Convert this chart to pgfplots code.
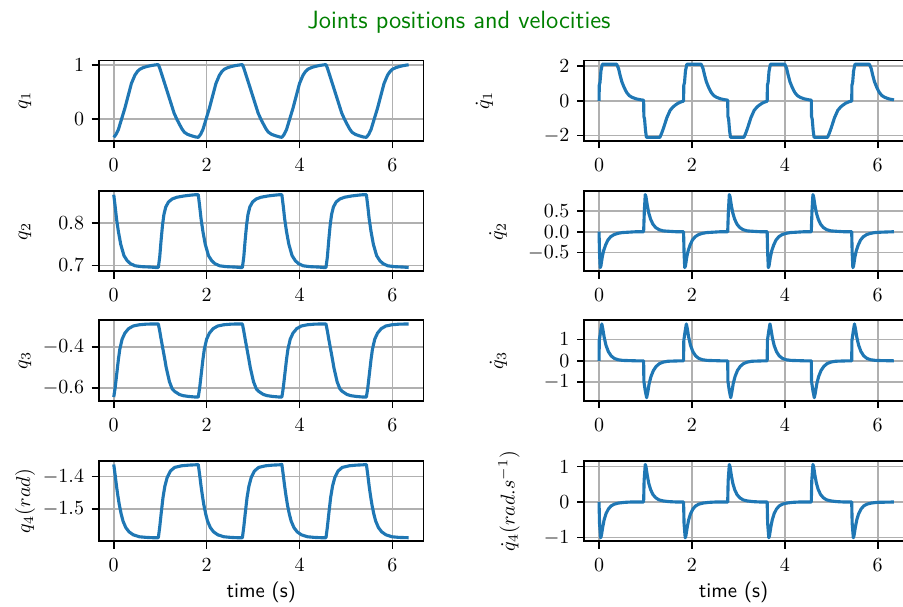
\documentclass[border=0pt]{standalone}
\usepackage{pgfplots}
\pgfplotsset{compat=1.18}
\definecolor{tabblue}{HTML}{1F77B4}
\definecolor{gridgray}{HTML}{B0B0B0}
\definecolor{titlegreen}{HTML}{008000}
\pgfplotsset{
  base/.style={
    scale only axis, width=162.2pt, height=40.2pt,
    anchor=south west,
    xmin=-0.3175, xmax=6.6675,
    xtick={0,2,4,6},
    grid=major,
    major grid style={line width=0.83pt, color=gridgray},
    tick align=outside, tick pos=left,
    major tick length=3.65pt,
    every tick/.style={black, line width=0.83pt},
    axis line style={line width=0.83pt},
    tick label style={font=\fontsize{10.4}{12.5}\selectfont, inner sep=0pt},
    xticklabel style={anchor=north, yshift=-5.0pt},
    yticklabel style={anchor=east, xshift=-3.65pt},
    label style={font=\fontsize{10.4}{12.5}\selectfont},
  },
  lcol/.style={base, ylabel style={at={(axis description cs:-0.228,0.5)}, anchor=center}},
  myline/.style={color=tabblue, line width=1.56pt, line join=round, mark=none},
}
\begin{document}
\begin{tikzpicture}
\useasboundingbox (0,0) rectangle (451.5pt,303pt);
\node[font=\sffamily\fontsize{12.5}{15}\selectfont, text=titlegreen, anchor=base, inner sep=0pt] at (229.5pt,288.85pt) {Joints positions and velocities};

% ---------- q1 ----------
\begin{axis}[lcol, at={(49.5pt,232.5pt)}, ymin=-0.414, ymax=1.088, ytick={0,1}, ylabel={$q_1$}]
\addplot[myline] coordinates {
(0,-0.346) (0.05,-0.29) (0.10,-0.20) (0.17,0.00) (0.24,0.20) (0.31,0.43) (0.38,0.66) (0.455,0.815) (0.51,0.885) (0.56,0.926) (0.63,0.955) (0.70,0.975) (0.80,0.995) (0.90,1.008)
(0.96,1.013) (0.99,0.95) (1.13,0.57) (1.30,0.105) (1.36,-0.01) (1.42,-0.11) (1.47,-0.19) (1.52,-0.25) (1.59,-0.29) (1.67,-0.315) (1.76,-0.338)
(1.82,-0.346) (1.87,-0.29) (1.92,-0.20) (1.99,0.00) (2.06,0.20) (2.13,0.43) (2.20,0.66) (2.275,0.815) (2.33,0.885) (2.38,0.926) (2.45,0.955) (2.52,0.975) (2.62,0.995) (2.72,1.008)
(2.77,1.013) (2.80,0.95) (2.94,0.57) (3.11,0.105) (3.17,-0.01) (3.23,-0.11) (3.28,-0.19) (3.33,-0.25) (3.40,-0.29) (3.48,-0.315) (3.57,-0.338)
(3.62,-0.346) (3.67,-0.29) (3.72,-0.20) (3.79,0.00) (3.86,0.20) (3.93,0.43) (4.00,0.66) (4.075,0.815) (4.13,0.885) (4.18,0.926) (4.25,0.955) (4.32,0.975) (4.42,0.995) (4.52,1.008)
(4.57,1.013) (4.60,0.95) (4.74,0.57) (4.91,0.105) (4.97,-0.01) (5.03,-0.11) (5.08,-0.19) (5.13,-0.25) (5.20,-0.29) (5.28,-0.315) (5.37,-0.338)
(5.44,-0.346) (5.49,-0.29) (5.54,-0.20) (5.61,0.00) (5.68,0.20) (5.75,0.43) (5.82,0.66) (5.895,0.815) (5.95,0.885) (6.00,0.926) (6.07,0.955) (6.14,0.975) (6.24,0.995) (6.35,1.01)
};
\end{axis}

% ---------- q2 ----------
\begin{axis}[lcol, at={(49.5pt,167.35pt)}, ymin=0.686, ymax=0.876, ytick={0.7,0.8}, yticklabels={$0.7$,$0.8$}, ylabel={$q_2$}]
\addplot[myline] coordinates {
(0,0.867) (0.03,0.84) (0.06,0.81) (0.10,0.78) (0.15,0.75) (0.22,0.723) (0.29,0.711) (0.36,0.704) (0.46,0.699) (0.60,0.697) (0.80,0.696) (0.90,0.695)
(0.96,0.695) (0.99,0.72) (1.02,0.76) (1.05,0.795) (1.08,0.82) (1.12,0.838) (1.18,0.85) (1.26,0.857) (1.36,0.861) (1.51,0.864) (1.66,0.866) (1.76,0.867)
(1.82,0.867) (1.85,0.84) (1.88,0.81) (1.92,0.78) (1.97,0.75) (2.04,0.723) (2.11,0.711) (2.18,0.704) (2.28,0.699) (2.42,0.697) (2.62,0.696) (2.72,0.695)
(2.77,0.695) (2.80,0.72) (2.83,0.76) (2.86,0.795) (2.89,0.82) (2.93,0.838) (2.99,0.85) (3.07,0.857) (3.17,0.861) (3.32,0.864) (3.47,0.866) (3.57,0.867)
(3.62,0.867) (3.65,0.84) (3.68,0.81) (3.72,0.78) (3.77,0.75) (3.84,0.723) (3.91,0.711) (3.98,0.704) (4.08,0.699) (4.22,0.697) (4.42,0.696) (4.52,0.695)
(4.57,0.695) (4.60,0.72) (4.63,0.76) (4.66,0.795) (4.69,0.82) (4.73,0.838) (4.79,0.85) (4.87,0.857) (4.97,0.861) (5.12,0.864) (5.27,0.866) (5.37,0.867)
(5.44,0.867) (5.47,0.84) (5.50,0.81) (5.54,0.78) (5.59,0.75) (5.66,0.723) (5.73,0.711) (5.80,0.704) (5.90,0.699) (6.04,0.697) (6.24,0.696) (6.35,0.695)
};
\end{axis}

% ---------- q3 ----------
\begin{axis}[lcol, at={(49.5pt,102.65pt)}, ymin=-0.663, ymax=-0.267, ytick={-0.6,-0.4}, yticklabels={$-0.6$,$-0.4$}, ylabel={$q_3$}]
\addplot[myline] coordinates {
(0,-0.645) (0.03,-0.60) (0.06,-0.54) (0.10,-0.46) (0.13,-0.41) (0.18,-0.36) (0.24,-0.33) (0.32,-0.308) (0.42,-0.295) (0.55,-0.289) (0.70,-0.286) (0.85,-0.285)
(0.96,-0.285) (0.99,-0.32) (1.02,-0.36) (1.06,-0.41) (1.10,-0.46) (1.13,-0.50) (1.20,-0.57) (1.26,-0.605) (1.31,-0.617) (1.41,-0.632) (1.49,-0.638) (1.61,-0.642) (1.76,-0.645)
(1.82,-0.645) (1.85,-0.60) (1.88,-0.54) (1.92,-0.46) (1.95,-0.41) (2.00,-0.36) (2.06,-0.33) (2.14,-0.308) (2.24,-0.295) (2.37,-0.289) (2.52,-0.286) (2.67,-0.285)
(2.77,-0.285) (2.80,-0.32) (2.83,-0.36) (2.87,-0.41) (2.91,-0.46) (2.94,-0.50) (3.01,-0.57) (3.07,-0.605) (3.12,-0.617) (3.22,-0.632) (3.30,-0.638) (3.42,-0.642) (3.57,-0.645)
(3.62,-0.645) (3.65,-0.60) (3.68,-0.54) (3.72,-0.46) (3.75,-0.41) (3.80,-0.36) (3.86,-0.33) (3.94,-0.308) (4.04,-0.295) (4.17,-0.289) (4.32,-0.286) (4.47,-0.285)
(4.57,-0.285) (4.60,-0.32) (4.63,-0.36) (4.67,-0.41) (4.71,-0.46) (4.74,-0.50) (4.81,-0.57) (4.87,-0.605) (4.92,-0.617) (5.02,-0.632) (5.10,-0.638) (5.22,-0.642) (5.37,-0.645)
(5.44,-0.645) (5.47,-0.60) (5.50,-0.54) (5.54,-0.46) (5.57,-0.41) (5.62,-0.36) (5.68,-0.33) (5.76,-0.308) (5.86,-0.295) (5.99,-0.289) (6.14,-0.286) (6.35,-0.285)
};
\end{axis}

% ---------- q4 ----------
\begin{axis}[lcol, at={(49.5pt,32.35pt)}, ymin=-1.599, ymax=-1.352, ytick={-1.5,-1.4}, yticklabels={$-1.5$,$-1.4$}, ylabel={$q_4(rad)$},
  xlabel={\sffamily time (s)}, xlabel style={at={(axis description cs:0.5,-0.695)}, anchor=base}]
\addplot[myline] coordinates {
(0,-1.363) (0.03,-1.395) (0.06,-1.43) (0.09,-1.46) (0.12,-1.487) (0.16,-1.515) (0.20,-1.537) (0.26,-1.557) (0.33,-1.57) (0.42,-1.579) (0.55,-1.585) (0.70,-1.587) (0.85,-1.588)
(0.96,-1.588) (0.99,-1.555) (1.02,-1.515) (1.06,-1.465) (1.10,-1.43) (1.15,-1.403) (1.22,-1.383) (1.31,-1.372) (1.46,-1.367) (1.61,-1.365) (1.76,-1.364)
(1.82,-1.363) (1.85,-1.395) (1.88,-1.43) (1.91,-1.46) (1.94,-1.487) (1.98,-1.515) (2.02,-1.537) (2.08,-1.557) (2.15,-1.57) (2.24,-1.579) (2.37,-1.585) (2.52,-1.587) (2.67,-1.588)
(2.77,-1.588) (2.80,-1.555) (2.83,-1.515) (2.87,-1.465) (2.91,-1.43) (2.96,-1.403) (3.03,-1.383) (3.12,-1.372) (3.27,-1.367) (3.42,-1.365) (3.57,-1.364)
(3.62,-1.363) (3.65,-1.395) (3.68,-1.43) (3.71,-1.46) (3.74,-1.487) (3.78,-1.515) (3.82,-1.537) (3.88,-1.557) (3.95,-1.57) (4.04,-1.579) (4.17,-1.585) (4.32,-1.587) (4.47,-1.588)
(4.57,-1.588) (4.60,-1.555) (4.63,-1.515) (4.67,-1.465) (4.71,-1.43) (4.76,-1.403) (4.83,-1.383) (4.92,-1.372) (5.07,-1.367) (5.22,-1.365) (5.37,-1.364)
(5.44,-1.363) (5.47,-1.395) (5.50,-1.43) (5.53,-1.46) (5.56,-1.487) (5.60,-1.515) (5.64,-1.537) (5.70,-1.557) (5.77,-1.57) (5.86,-1.579) (5.99,-1.585) (6.14,-1.587) (6.35,-1.588)
};
\end{axis}

% ---------- dq1 ----------
\begin{axis}[base, at={(292.15pt,232.5pt)}, ymin=-2.31, ymax=2.31, ytick={-2,0,2}, ylabel={$\dot{q}_1$},
  ylabel style={at={(axis description cs:-0.308,0.5)}, anchor=center}]
\addplot[myline] coordinates {
(0,0) (0.005,0.9) (0.02,1.05) (0.04,1.7) (0.07,2.1) (0.38,2.1) (0.42,1.85) (0.45,1.5) (0.49,1.1) (0.53,0.83) (0.57,0.6) (0.60,0.46) (0.65,0.3) (0.71,0.2) (0.80,0.11) (0.89,0.06) (0.94,0.04)
(0.96,0.03) (0.965,-0.9) (0.98,-1.05) (1.00,-1.7) (1.02,-2.1) (1.31,-2.1) (1.35,-1.85) (1.39,-1.55) (1.46,-0.97) (1.53,-0.55) (1.59,-0.36) (1.64,-0.25) (1.70,-0.14) (1.75,-0.08) (1.80,-0.03)
(1.82,-0.02) (1.825,0.9) (1.84,1.05) (1.86,1.7) (1.89,2.1) (2.20,2.1) (2.24,1.85) (2.27,1.5) (2.31,1.1) (2.35,0.83) (2.39,0.6) (2.42,0.46) (2.47,0.3) (2.53,0.2) (2.62,0.11) (2.71,0.06) (2.76,0.04)
(2.77,0.03) (2.775,-0.9) (2.79,-1.05) (2.81,-1.7) (2.83,-2.1) (3.12,-2.1) (3.16,-1.85) (3.20,-1.55) (3.27,-0.97) (3.34,-0.55) (3.40,-0.36) (3.45,-0.25) (3.51,-0.14) (3.56,-0.08) (3.61,-0.03)
(3.62,-0.02) (3.625,0.9) (3.64,1.05) (3.66,1.7) (3.69,2.1) (4.00,2.1) (4.04,1.85) (4.07,1.5) (4.11,1.1) (4.15,0.83) (4.19,0.6) (4.22,0.46) (4.27,0.3) (4.33,0.2) (4.42,0.11) (4.51,0.06) (4.56,0.04)
(4.57,0.03) (4.575,-0.9) (4.59,-1.05) (4.61,-1.7) (4.63,-2.1) (4.92,-2.1) (4.96,-1.85) (5.00,-1.55) (5.07,-0.97) (5.14,-0.55) (5.20,-0.36) (5.25,-0.25) (5.31,-0.14) (5.36,-0.08) (5.41,-0.03)
(5.44,-0.02) (5.445,0.9) (5.46,1.05) (5.48,1.7) (5.51,2.1) (5.82,2.1) (5.86,1.85) (5.89,1.5) (5.93,1.1) (5.97,0.83) (6.01,0.6) (6.04,0.46) (6.09,0.3) (6.15,0.2) (6.24,0.11) (6.35,0.05)
};
\end{axis}

% ---------- dq2 ----------
\begin{axis}[base, at={(292.15pt,167.35pt)}, ymin=-0.948, ymax=0.978, ytick={-0.5,0,0.5}, yticklabels={$-0.5$,$0.0$,$0.5$}, ylabel={$\dot{q}_2$},
  ylabel style={at={(axis description cs:-0.266,0.5)}, anchor=center}]
\addplot[myline] coordinates {
(0,0) (0.01,-0.5) (0.025,-0.86) (0.04,-0.82) (0.07,-0.6) (0.10,-0.45) (0.14,-0.32) (0.19,-0.2) (0.25,-0.12) (0.32,-0.07) (0.40,-0.04) (0.50,-0.02) (0.65,-0.01) (0.80,0)
(0.96,0) (0.975,0.5) (0.995,0.89) (1.01,0.84) (1.04,0.62) (1.07,0.45) (1.11,0.3) (1.16,0.18) (1.22,0.1) (1.29,0.05) (1.38,0.02) (1.51,0.01) (1.66,0)
(1.82,0) (1.83,-0.5) (1.845,-0.86) (1.86,-0.82) (1.89,-0.6) (1.92,-0.45) (1.96,-0.32) (2.01,-0.2) (2.07,-0.12) (2.14,-0.07) (2.22,-0.04) (2.32,-0.02) (2.47,-0.01) (2.62,0)
(2.77,0) (2.785,0.5) (2.805,0.89) (2.82,0.84) (2.85,0.62) (2.88,0.45) (2.92,0.3) (2.97,0.18) (3.03,0.1) (3.10,0.05) (3.19,0.02) (3.32,0.01) (3.47,0)
(3.62,0) (3.63,-0.5) (3.645,-0.86) (3.66,-0.82) (3.69,-0.6) (3.72,-0.45) (3.76,-0.32) (3.81,-0.2) (3.87,-0.12) (3.94,-0.07) (4.02,-0.04) (4.12,-0.02) (4.27,-0.01) (4.42,0)
(4.57,0) (4.585,0.5) (4.605,0.89) (4.62,0.84) (4.65,0.62) (4.68,0.45) (4.72,0.3) (4.77,0.18) (4.83,0.1) (4.90,0.05) (4.99,0.02) (5.12,0.01) (5.27,0)
(5.44,0) (5.45,-0.5) (5.465,-0.86) (5.48,-0.82) (5.51,-0.6) (5.54,-0.45) (5.58,-0.32) (5.63,-0.2) (5.69,-0.12) (5.76,-0.07) (5.84,-0.04) (5.94,-0.02) (6.09,-0.01) (6.35,0)
};
\end{axis}

% ---------- dq3 ----------
\begin{axis}[base, at={(292.15pt,102.65pt)}, ymin=-1.86, ymax=1.89, ytick={-1,0,1}, ylabel={$\dot{q}_3$},
  ylabel style={at={(axis description cs:-0.265,0.5)}, anchor=center}]
\addplot[myline] coordinates {
(0,0) (0.005,0.95) (0.035,1.4) (0.06,1.72) (0.08,1.5) (0.11,1.1) (0.15,0.72) (0.20,0.43) (0.26,0.23) (0.33,0.11) (0.41,0.05) (0.51,0.02) (0.65,0.01) (0.80,0)
(0.96,0) (0.965,-0.95) (0.995,-1.4) (1.025,-1.72) (1.05,-1.45) (1.08,-1.05) (1.12,-0.72) (1.17,-0.45) (1.23,-0.26) (1.30,-0.13) (1.38,-0.06) (1.48,-0.02) (1.61,-0.01) (1.76,0)
(1.82,0) (1.825,0.95) (1.855,1.4) (1.88,1.72) (1.90,1.5) (1.93,1.1) (1.97,0.72) (2.02,0.43) (2.08,0.23) (2.15,0.11) (2.23,0.05) (2.33,0.02) (2.47,0.01) (2.62,0)
(2.77,0) (2.775,-0.95) (2.805,-1.4) (2.835,-1.72) (2.86,-1.45) (2.89,-1.05) (2.93,-0.72) (2.98,-0.45) (3.04,-0.26) (3.11,-0.13) (3.19,-0.06) (3.29,-0.02) (3.42,-0.01) (3.57,0)
(3.62,0) (3.625,0.95) (3.655,1.4) (3.68,1.72) (3.70,1.5) (3.73,1.1) (3.77,0.72) (3.82,0.43) (3.88,0.23) (3.95,0.11) (4.03,0.05) (4.13,0.02) (4.27,0.01) (4.42,0)
(4.57,0) (4.575,-0.95) (4.605,-1.4) (4.635,-1.72) (4.66,-1.45) (4.69,-1.05) (4.73,-0.72) (4.78,-0.45) (4.84,-0.26) (4.91,-0.13) (4.99,-0.06) (5.09,-0.02) (5.22,-0.01) (5.37,0)
(5.44,0) (5.445,0.95) (5.475,1.4) (5.50,1.72) (5.52,1.5) (5.55,1.1) (5.59,0.72) (5.64,0.43) (5.70,0.23) (5.77,0.11) (5.85,0.05) (5.95,0.02) (6.09,0.01) (6.35,0)
};
\end{axis}

% ---------- dq4 ----------
\begin{axis}[base, at={(292.15pt,32.35pt)}, ymin=-1.11, ymax=1.16, ytick={-1,0,1}, ylabel={$\dot{q}_4(rad.s^{-1})$},
  ylabel style={at={(axis description cs:-0.232,0.5)}, anchor=center},
  xlabel={\sffamily time (s)}, xlabel style={at={(axis description cs:0.46,-0.695)}, anchor=base}]
\addplot[myline] coordinates {
(0,0) (0.01,-0.6) (0.035,-1.01) (0.05,-0.95) (0.08,-0.7) (0.11,-0.5) (0.15,-0.33) (0.20,-0.2) (0.26,-0.11) (0.33,-0.06) (0.42,-0.03) (0.55,-0.01) (0.70,0)
(0.96,0) (0.97,0.6) (0.995,1.06) (1.01,1.0) (1.04,0.74) (1.07,0.53) (1.11,0.35) (1.16,0.21) (1.22,0.12) (1.29,0.06) (1.38,0.03) (1.51,0.01) (1.66,0)
(1.82,0) (1.83,-0.6) (1.855,-1.01) (1.87,-0.95) (1.90,-0.7) (1.93,-0.5) (1.97,-0.33) (2.02,-0.2) (2.08,-0.11) (2.15,-0.06) (2.24,-0.03) (2.37,-0.01) (2.52,0)
(2.77,0) (2.78,0.6) (2.805,1.06) (2.82,1.0) (2.85,0.74) (2.88,0.53) (2.92,0.35) (2.97,0.21) (3.03,0.12) (3.10,0.06) (3.19,0.03) (3.32,0.01) (3.47,0)
(3.62,0) (3.63,-0.6) (3.655,-1.01) (3.67,-0.95) (3.70,-0.7) (3.73,-0.5) (3.77,-0.33) (3.82,-0.2) (3.88,-0.11) (3.95,-0.06) (4.04,-0.03) (4.17,-0.01) (4.32,0)
(4.57,0) (4.58,0.6) (4.605,1.06) (4.62,1.0) (4.65,0.74) (4.68,0.53) (4.72,0.35) (4.77,0.21) (4.83,0.12) (4.90,0.06) (4.99,0.03) (5.12,0.01) (5.27,0)
(5.44,0) (5.45,-0.6) (5.475,-1.01) (5.49,-0.95) (5.52,-0.7) (5.55,-0.5) (5.59,-0.33) (5.64,-0.2) (5.70,-0.11) (5.77,-0.06) (5.86,-0.03) (5.99,-0.01) (6.35,0)
};
\end{axis}
\end{tikzpicture}
\end{document}
